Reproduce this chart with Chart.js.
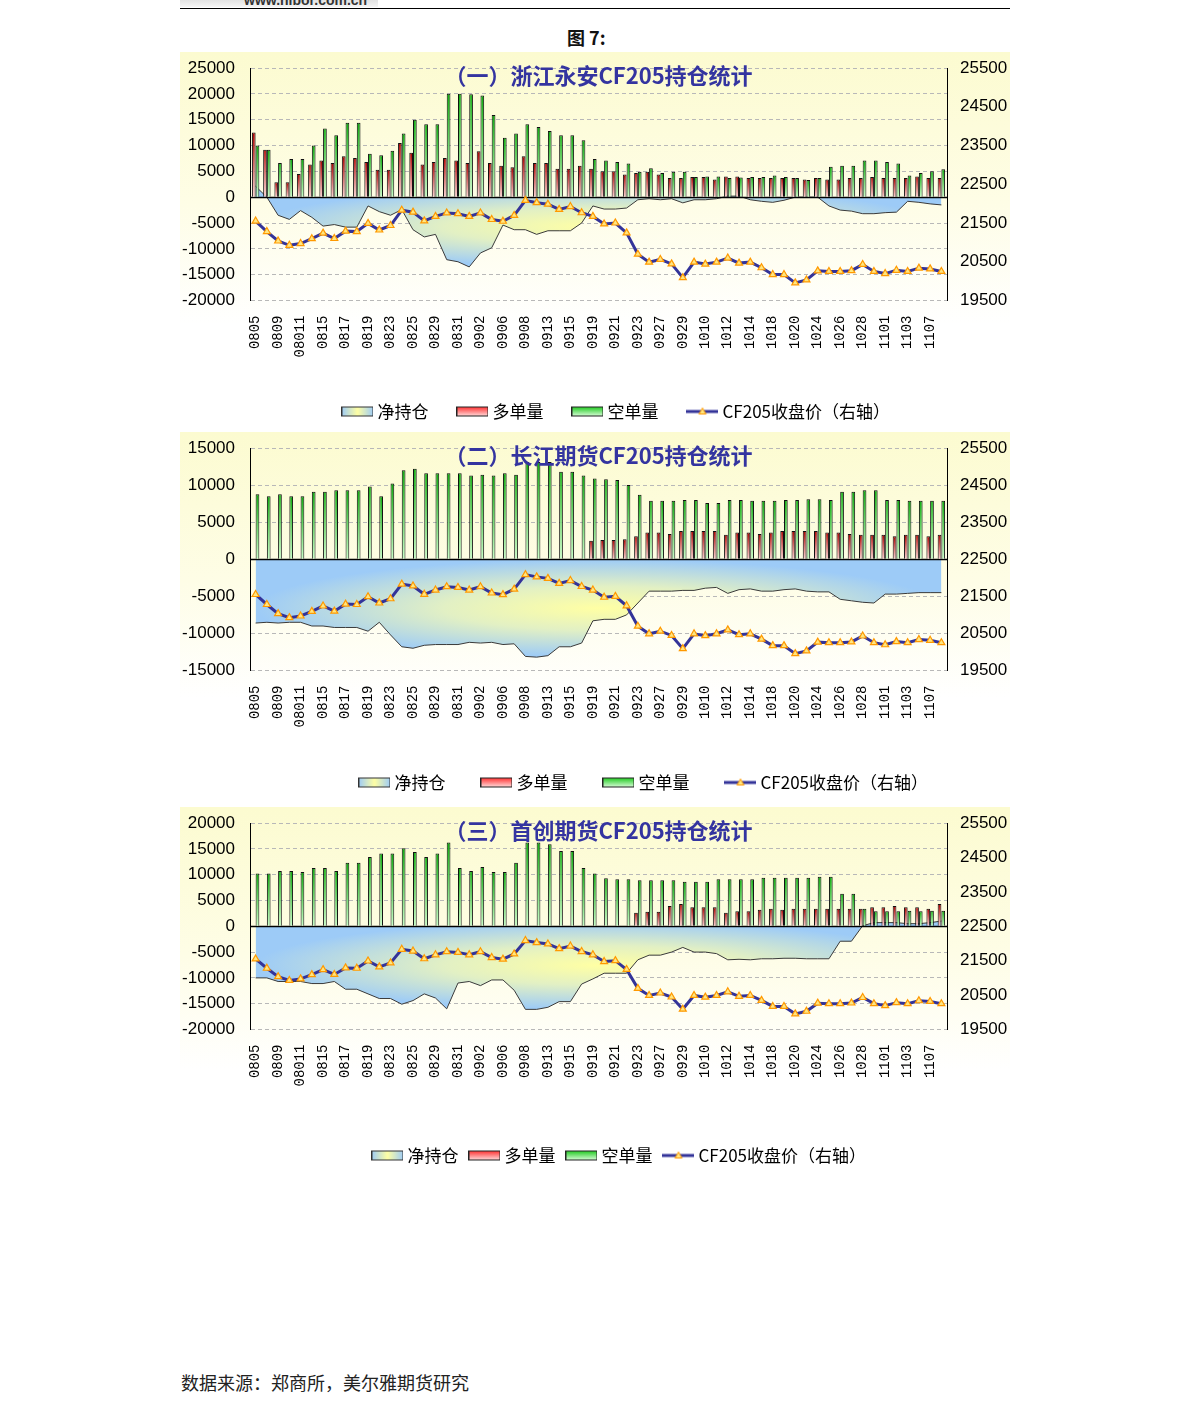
<!DOCTYPE html>
<html lang="zh-CN">
<head>
<meta charset="UTF-8">
<title>图7 CF205持仓统计</title>
<script src="https://cdn.jsdelivr.net/npm/chart.js"></script>
<style>
  body { margin: 0; width: 1191px; height: 1410px; position: relative; background: #fff; font-family: "Noto Sans CJK SC", sans-serif; }
  .site { position: absolute; left: 180px; top: 0; width: 198px; height: 7px; overflow: hidden; background: linear-gradient(#e2e2e2, #f5f5f5); }
  .site span { position: absolute; left: 64px; top: -8px; font: bold 14px "Liberation Sans", sans-serif; color: #333; }
  .rule { position: absolute; left: 180px; top: 8px; width: 830px; height: 1px; background: #000; }
  .fig { position: absolute; left: 567px; top: 24px; font-size: 18px; font-weight: bold; color: #111; }
  canvas { position: absolute; left: 180px; }
  .source { position: absolute; left: 181px; top: 1369px; font-size: 18px; color: #222; }
</style>
</head>
<body>
<div class="site"><span>www.hibor.com.cn</span></div>
<div class="rule"></div>
<div class="fig">图 7:</div>

<canvas id="chart1" width="830" height="378" style="top:52px"></canvas>
<canvas id="chart2" width="830" height="369" style="top:432px"></canvas>
<canvas id="chart3" width="830" height="367" style="top:807px"></canvas>

<div class="source">数据来源：郑商所，美尔雅期货研究</div>

<script>
// x轴只标出隔一个交易日的日期
const tickLabels = ['0805', '0809', '08011', '0815', '0817', '0819', '0823', '0825', '0829', '0831',
    '0902', '0906', '0908', '0913', '0915', '0919', '0921', '0923', '0927', '0929',
    '1010', '1012', '1014', '1018', '1020', '1024', '1026', '1028', '1101', '1103', '1107'];
const categories = [];
tickLabels.forEach(t => categories.push(t, ''));

// CF205 收盘价（右轴），三张图相同
const price = [21550, 21280, 21035, 20925, 20970, 21095, 21240, 21100, 21290, 21280,
    21490, 21320, 21435, 21830, 21780, 21555, 21670, 21760, 21740, 21670,
    21760, 21590, 21545, 21695, 22085, 22025, 21985, 21850, 21925, 21765,
    21670, 21475, 21500, 21245, 20695, 20490, 20560, 20445, 20090, 20490,
    20440, 20490, 20595, 20465, 20490, 20345, 20170, 20170, 19955, 20030,
    20265, 20250, 20250, 20270, 20430, 20250, 20195, 20280, 20250, 20335,
    20315, 20250];

// (一) 浙江永安
const longYongan = [12500, 9200, 2900, 2900, 4500, 6300, 7100, 6600, 7900, 7600,
    6800, 5300, 5300, 10500, 8600, 6300, 6800, 7600, 7100, 6600,
    8900, 6600, 6100, 5800, 7900, 6600, 6600, 5500, 5500, 6100,
    5500, 5000, 5000, 4400, 4700, 4900, 4400, 3700, 3700, 3900,
    3900, 3400, 4000, 4000, 3700, 3700, 3700, 3700, 3700, 3400,
    3700, 3400, 3400, 3700, 3700, 3900, 3700, 3700, 3700, 4000,
    3700, 3700];
const shortYongan = [10000, 9200, 6600, 7400, 7400, 10000, 13300, 12000, 14400, 14400,
    8400, 8100, 9000, 12300, 15000, 14100, 14100, 20000, 20000, 19900,
    19700, 15900, 11500, 12300, 14100, 13600, 12800, 12000, 12000, 11000,
    7400, 7100, 6800, 6500, 4900, 5600, 4700, 4900, 4900, 3900,
    4000, 4000, 3700, 3800, 3900, 3900, 4200, 3900, 3700, 3300,
    3700, 5900, 6100, 6100, 7100, 7100, 6800, 6500, 4200, 4700,
    5000, 5400];
const netYongan = [2100, 0, -3500, -4300, -2600, -3900, -5600, -5300, -5800, -5800,
    -1700, -2800, -3500, -2400, -6300, -7700, -7200, -12100, -12500, -13500,
    -10800, -9800, -5400, -6300, -6300, -7200, -6500, -6500, -6500, -5000,
    -1700, -2300, -2300, -2100, -500, -300, -500, -300, -1100, -500,
    -500, -300, 200, 200, -500, -800, -1000, -600, 0, 0,
    0, -1700, -2500, -2700, -3200, -3200, -3000, -2900, -800, -1000,
    -1300, -1500];

// (二) 长江期货
const longChangjiang = [0, 0, 0, 0, 0, 0, 0, 0, 0, 0,
    0, 0, 0, 0, 0, 0, 0, 0, 0, 0,
    0, 0, 0, 0, 0, 0, 0, 0, 0, 0,
    2500, 2600, 2600, 2700, 3100, 3600, 3600, 3400, 3800, 3800,
    3800, 3800, 3300, 3600, 3600, 3400, 3600, 3800, 3800, 3800,
    3800, 3600, 3600, 3400, 3300, 3300, 3300, 3100, 3300, 3300,
    3100, 3300];
const shortChangjiang = [8750, 8500, 8750, 8500, 8500, 9100, 9100, 9300, 9300, 9300,
    9800, 8500, 10200, 12000, 12200, 11600, 11600, 11600, 11600, 11300,
    11400, 11300, 11600, 11400, 13100, 13100, 13100, 11800, 11800, 11300,
    10900, 10800, 10700, 10000, 8700, 7900, 7900, 7900, 8000, 8000,
    7600, 7600, 8000, 8000, 7900, 7900, 7900, 8000, 8000, 8100,
    8100, 8000, 9100, 9100, 9300, 9300, 8000, 8000, 7900, 7900,
    7900, 7900];
const netChangjiang = [-8600, -8500, -8600, -8500, -8500, -9000, -9000, -9200, -9200, -9200,
    -9700, -8500, -10200, -11800, -12000, -11600, -11500, -11500, -11500, -11200,
    -11300, -11200, -11500, -11400, -13100, -13200, -13000, -11800, -11800, -11300,
    -8300, -8100, -8100, -7500, -5900, -4300, -4300, -4300, -4200, -4200,
    -3900, -3800, -4600, -4100, -4000, -4300, -4300, -4100, -4000, -4300,
    -4400, -4400, -5400, -5600, -5800, -5900, -4700, -4700, -4600, -4500,
    -4500, -4500];

// (三) 首创期货
const longShouchuang = [0, 0, 0, 0, 0, 0, 0, 0, 0, 0,
    0, 0, 0, 0, 0, 0, 0, 0, 0, 0,
    0, 0, 0, 0, 0, 0, 0, 0, 0, 0,
    0, 0, 0, 0, 2600, 2800, 2800, 3900, 4300, 3700,
    3700, 3700, 2600, 2900, 2900, 3200, 3400, 3200, 3400, 3400,
    3400, 3400, 3400, 3400, 3400, 3700, 3700, 3900, 3700, 3700,
    3400, 4300];
const shortShouchuang = [10200, 10200, 10700, 10700, 10500, 11300, 11300, 10700, 12300, 12300,
    13400, 14100, 14100, 15100, 14400, 13400, 14100, 16200, 11300, 10700,
    11500, 10500, 10500, 12300, 16200, 16200, 15900, 14600, 14600, 11300,
    10200, 9300, 9100, 9100, 8900, 8900, 8900, 8900, 8600, 8600,
    8600, 9100, 9100, 9100, 9100, 9400, 9400, 9400, 9400, 9400,
    9600, 9600, 6300, 6300, 3400, 2900, 2900, 2900, 3000, 2900,
    3000, 3000];
const netShouchuang = [-10000, -10000, -10700, -10700, -10700, -11100, -11100, -10700, -12200, -12200,
    -13100, -14000, -14000, -15100, -14400, -13100, -13900, -16000, -11000, -10700,
    -11500, -10400, -10400, -12400, -16100, -16100, -15700, -14600, -14600, -11200,
    -10200, -9100, -9100, -9100, -6500, -5600, -5600, -5000, -4100, -5000,
    -5000, -5300, -6500, -6400, -6500, -6300, -6300, -6200, -6200, -6300,
    -6300, -6300, -2900, -2900, 100, 700, 700, 700, 500, 500,
    700, 1000];

const seriesNames = ['净持仓', '多单量', '空单量', 'CF205收盘价（右轴）'];

const BLUE = '#9dcbf7';
const YELLOW = '#ffffa4';

// 柱子每根单独做渐变，颜色从柱顶到零线
function barFill(top, bottom) {
    return (c) => {
        const y = c.chart.scales.y;
        if (!y || !c.raw) return bottom;
        const y0 = y.getPixelForValue(0);
        const y1 = y.getPixelForValue(c.raw);
        if (!isFinite(y0) || !isFinite(y1) || y0 === y1) return bottom;
        const g = c.chart.ctx.createLinearGradient(0, y1, 0, y0);
        g.addColorStop(0, top);
        g.addColorStop(1, bottom);
        return g;
    };
}

// 净持仓面积：中心黄、四周蓝
function netFill(c) {
    const chart = c.chart;
    if (!chart.chartArea) return BLUE;
    const data = c.dataset.data;
    const x = chart.scales.x, y = chart.scales.y;
    const x0 = x.getPixelForValue(0), x1 = x.getPixelForValue(data.length - 1);
    const yTop = y.getPixelForValue(Math.max(0, ...data));
    const yBot = y.getPixelForValue(Math.min(0, ...data));
    const off = document.createElement('canvas');
    off.width = chart.width;
    off.height = chart.height;
    const o = off.getContext('2d');
    o.fillStyle = BLUE;
    o.fillRect(0, 0, off.width, off.height);
    o.save();
    o.translate((x0 + x1) / 2, (yTop + yBot) / 2);
    o.scale((x1 - x0) / 2, Math.max(1, (yBot - yTop) / 2));
    const g = o.createRadialGradient(0, 0, 0, 0, 0, 1);
    g.addColorStop(0, YELLOW);
    g.addColorStop(0.45, '#e2f0c4');
    g.addColorStop(1, BLUE);
    o.fillStyle = g;
    o.fillRect(-1, -1, 2, 2);
    o.restore();
    return chart.ctx.createPattern(off, 'no-repeat');
}

function icon(draw) {
    const c = document.createElement('canvas');
    c.width = 32;
    c.height = 12;
    draw(c.getContext('2d'));
    return c;
}
const legendIcons = [
    icon(g => {
        const gr = g.createLinearGradient(0, 0, 32, 0);
        gr.addColorStop(0, BLUE); gr.addColorStop(0.5, YELLOW); gr.addColorStop(1, BLUE);
        g.fillStyle = gr; g.fillRect(0.5, 1.5, 31, 9);
        g.strokeStyle = '#333'; g.strokeRect(0.5, 1.5, 31, 9);
    }),
    icon(g => {
        const gr = g.createLinearGradient(0, 1, 0, 11);
        gr.addColorStop(0, '#ff2a2a'); gr.addColorStop(1, '#ffe4e4');
        g.fillStyle = gr; g.fillRect(0.5, 1.5, 31, 9);
        g.strokeStyle = '#222'; g.strokeRect(0.5, 1.5, 31, 9);
    }),
    icon(g => {
        const gr = g.createLinearGradient(0, 1, 0, 11);
        gr.addColorStop(0, '#18c818'); gr.addColorStop(1, '#e0ffe0');
        g.fillStyle = gr; g.fillRect(0.5, 1.5, 31, 9);
        g.strokeStyle = '#222'; g.strokeRect(0.5, 1.5, 31, 9);
    }),
    icon(g => {
        g.strokeStyle = '#333399'; g.lineWidth = 3;
        g.beginPath(); g.moveTo(0, 6); g.lineTo(32, 6); g.stroke();
        g.fillStyle = '#ffe680'; g.strokeStyle = '#ff9900'; g.lineWidth = 1;
        g.beginPath(); g.moveTo(16, 2.5); g.lineTo(19.5, 8.5); g.lineTo(12.5, 8.5); g.closePath();
        g.fill(); g.stroke();
    })
];

const paper = {
    id: 'paper',
    beforeDraw(chart) {
        const {ctx, width, height} = chart;
        const g = ctx.createLinearGradient(0, 0, 0, height);
        g.addColorStop(0, '#fcfbd0');
        g.addColorStop(0.4, '#fefde6');
        g.addColorStop(0.72, '#ffffff');
        ctx.save();
        ctx.fillStyle = g;
        ctx.fillRect(0, 0, width, height);
        ctx.restore();
    }
};

// 类别轴在 0 处交叉
const zeroLine = {
    id: 'zeroLine',
    afterDatasetDraw(chart, args) {
        if (args.index !== 0) return;
        const {ctx, chartArea} = chart;
        const y = Math.round(chart.scales.y.getPixelForValue(0)) + 0.5;
        ctx.save();
        ctx.strokeStyle = '#000';
        ctx.lineWidth = 1.5;
        ctx.beginPath();
        ctx.moveTo(chartArea.left, y);
        ctx.lineTo(chartArea.right, y);
        ctx.stroke();
        ctx.restore();
    }
};

const plotTitle = {
    id: 'plotTitle',
    afterDatasetsDraw(chart, args, opts) {
        const {ctx, chartArea} = chart;
        ctx.save();
        ctx.font = 'bold 22px "Noto Sans CJK SC", sans-serif';
        ctx.fillStyle = '#3434a0';
        ctx.textAlign = 'center';
        ctx.textBaseline = 'middle';
        ctx.fillText(opts.text, (chartArea.left + chartArea.right) / 2, chartArea.top + 8);
        ctx.restore();
    }
};

const tickFont = { family: '"Liberation Sans", sans-serif', size: 17 };

function makeChart(id, o) {
    return new Chart(document.getElementById(id), {
        type: 'bar',
        data: {
            labels: categories,
            datasets: [
                {
                    type: 'line', label: seriesNames[0], data: o.net, yAxisID: 'y', order: 2,
                    fill: 'origin', backgroundColor: netFill, borderColor: '#3a3a3a', borderWidth: 1,
                    pointRadius: 0, tension: 0
                },
                {
                    label: seriesNames[1], data: o.long, yAxisID: 'y', order: 1,
                    backgroundColor: barFill('#b00000', '#ffd4d4'), borderColor: '#111', borderWidth: 1,
                    categoryPercentage: 0.66, barPercentage: 1
                },
                {
                    label: seriesNames[2], data: o.short, yAxisID: 'y', order: 1,
                    backgroundColor: barFill('#12b012', '#c8ffc8'), borderColor: '#111', borderWidth: 1,
                    categoryPercentage: 0.66, barPercentage: 1
                },
                {
                    type: 'line', label: seriesNames[3], data: price, yAxisID: 'y1', order: 0,
                    borderColor: '#333399', borderWidth: 3, tension: 0,
                    pointStyle: 'triangle', pointRadius: 4,
                    pointBackgroundColor: '#ffe680', pointBorderColor: '#ff9900', pointBorderWidth: 1.2
                }
            ]
        },
        options: {
            responsive: false,
            animation: false,
            events: [],
            // 右侧负边距只为把图例往右挪，与原图一致
            layout: { padding: { left: 0, right: o.padRight, top: 16, bottom: 0 } },
            plugins: {
                tooltip: { enabled: false },
                plotTitle: { text: o.title },
                legend: {
                    position: 'bottom',
                    labels: {
                        usePointStyle: true,
                        pointStyleWidth: 23,
                        padding: o.legendGap,
                        color: '#000',
                        font: { family: '"Noto Sans CJK SC", sans-serif', size: 17 },
                        generateLabels: () => seriesNames.map((text, i) => ({
                            text, pointStyle: legendIcons[i], datasetIndex: i, hidden: false, lineWidth: 0
                        }))
                    }
                }
            },
            scales: {
                x: {
                    grid: { display: false, drawTicks: false },
                    border: { display: false },
                    ticks: {
                        autoSkip: false, minRotation: 90, maxRotation: 90, padding: 15, color: '#000',
                        font: { family: '"Liberation Mono", monospace', size: 14 }
                    },
                    afterFit: s => { s.height = o.xHeight; }
                },
                y: {
                    position: 'left',
                    min: o.min, max: o.max,
                    ticks: { stepSize: 5000, padding: 3, color: '#000', font: tickFont, callback: v => String(v) },
                    grid: { color: '#b8b8b8', drawTicks: true, tickLength: 12, tickColor: 'transparent' },
                    border: { color: '#000', dash: [4, 3] },
                    afterFit: s => { s.width = 70; }
                },
                y1: {
                    position: 'right',
                    min: 19500, max: 25500,
                    ticks: { stepSize: 1000, padding: 3, color: '#000', font: tickFont, callback: v => String(v) },
                    grid: { drawOnChartArea: false, drawTicks: true, tickLength: 10, tickColor: 'transparent' },
                    border: { color: '#000' },
                    afterFit: s => { s.width = 63 - o.padRight; }
                }
            }
        },
        plugins: [paper, zeroLine, plotTitle]
    });
}

makeChart('chart1', {
    title: '（一）浙江永安CF205持仓统计',
    net: netYongan, long: longYongan, short: shortYongan,
    min: -20000, max: 25000,
    padRight: -46, legendGap: 32.5, xHeight: 70
});
makeChart('chart2', {
    title: '（二）长江期货CF205持仓统计',
    net: netChangjiang, long: longChangjiang, short: shortChangjiang,
    min: -15000, max: 15000,
    padRight: -101, legendGap: 39.5, xHeight: 64
});
makeChart('chart3', {
    title: '（三）首创期货CF205持仓统计',
    net: netShouchuang, long: longShouchuang, short: shortShouchuang,
    min: -20000, max: 20000,
    padRight: -52, legendGap: 14.5, xHeight: 103
});
</script>
</body>
</html>
